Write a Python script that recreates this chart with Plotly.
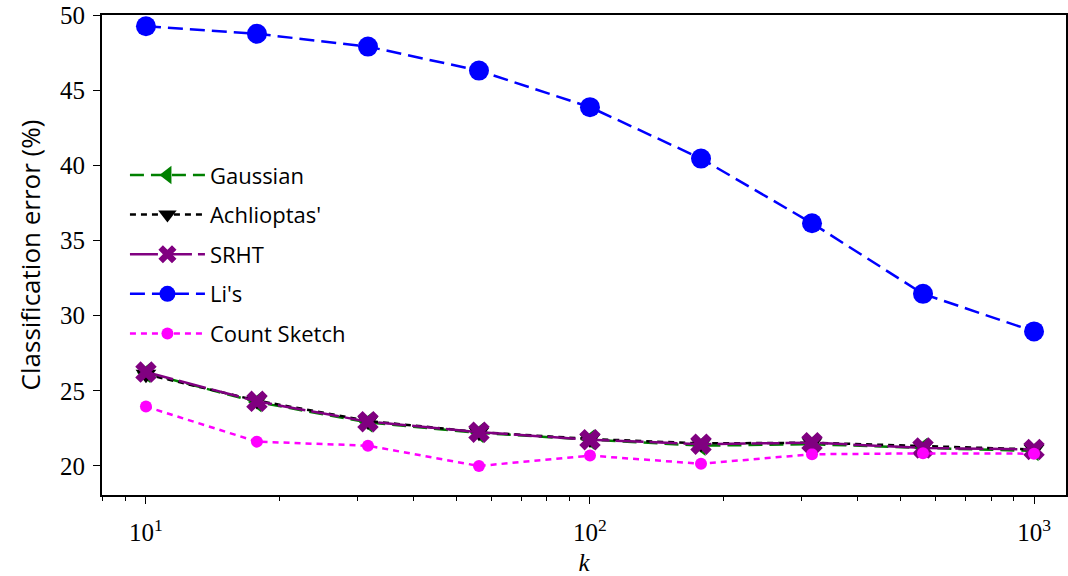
import plotly.graph_objects as go

# Sketch size k and classification error (%) per projection method
k_values = [10, 17.78, 31.62, 56.23, 100, 177.83, 316.23, 562.34, 1000]

gaussian = [26.2, 24.25, 22.9, 22.2, 21.75, 21.35, 21.45, 21.2, 21.0]
achlioptas = [26.1, 24.35, 23.0, 22.25, 21.8, 21.5, 21.55, 21.3, 21.1]
srht = [26.25, 24.3, 22.95, 22.25, 21.75, 21.45, 21.55, 21.2, 21.1]
lis = [49.25, 48.75, 47.9, 46.3, 43.87, 40.45, 36.15, 31.45, 28.95]
count_sketch = [23.95, 21.62, 21.35, 20.0, 20.69, 20.15, 20.78, 20.84, 20.82]

x_tick_vals = [10, 100, 1000]
x_tick_text = ["10<sup>1</sup>", "10<sup>2</sup>", "10<sup>3</sup>"]
y_ticks = [20, 25, 30, 35, 40, 45, 50]

series = [
    ("Gaussian", gaussian, "#008000", "14px,7px", "triangle-left", 18, 2.5),
    ("Achlioptas'", achlioptas, "#000000", "6px,5px", "triangle-down", 18, 2.5),
    ("SRHT", srht, "#800080", "28px,6px", "x", 19, 2.5),
    ("Li's", lis, "#0000ff", "15px,7px", "circle", 20, 2.5),
    ("Count Sketch", count_sketch, "#ff00ff", "6px,5px", "circle", 12, 2.5),
]

fig = go.Figure()
for i, (name, vals, color, dash, symbol, msize, lw) in enumerate(series):
    fig.add_trace(go.Scatter(
        x=k_values, y=vals, name=name, mode="lines+markers",
        line=dict(color=color, dash=dash, width=lw),
        marker=dict(symbol=symbol, size=msize, color=color,
                    line=dict(width=0)),
        legendgroup=f"g{i}",
    ))

axis_font = dict(family="Liberation Serif, serif", size=25, color="black")
sans = "Open Sans, sans-serif"

fig.update_layout(
    width=1068, height=576,
    margin=dict(l=102, r=0, t=15, b=81),
    paper_bgcolor="white", plot_bgcolor="white",
    showlegend=True,
    legend=dict(
        x=0.0238, y=0.71, xanchor="left", yanchor="top",
        bgcolor="rgba(0,0,0,0)", borderwidth=0,
        font=dict(family=sans, size=22, color="black"),
        itemwidth=75, tracegroupgap=8,
    ),
    xaxis=dict(
        type="log", range=[0.901, 3.072],
        tickvals=x_tick_vals, ticktext=x_tick_text,
        ticks="outside", ticklen=7, tickwidth=1.3, tickcolor="black",
        ticklabelstandoff=7,
        minor=dict(ticks="outside", ticklen=4, tickwidth=1, tickcolor="black",
                   tickvals=[8, 9, 20, 30, 40, 50, 60, 70, 80, 90,
                             200, 300, 400, 500, 600, 700, 800, 900]),
        showgrid=False, zeroline=False,
        showline=True, linecolor="black", linewidth=2, mirror=True,
        tickfont=axis_font,
        title=dict(text="<i>k</i>",
                   font=dict(family="Liberation Serif, serif", size=25, color="black"),
                   standoff=10),
    ),
    yaxis=dict(
        range=[18.07, 50.0],
        tickvals=y_ticks,
        ticks="outside", ticklen=7, tickwidth=1.3, tickcolor="black",
        ticklabelstandoff=3,
        showgrid=False, zeroline=False,
        showline=True, linecolor="black", linewidth=2, mirror=True,
        tickfont=axis_font,
        title=dict(text="Classification error (%)",
                   font=dict(family=sans, size=26, color="black"),
                   standoff=12),
    ),
)

fig.write_html("out.html")
